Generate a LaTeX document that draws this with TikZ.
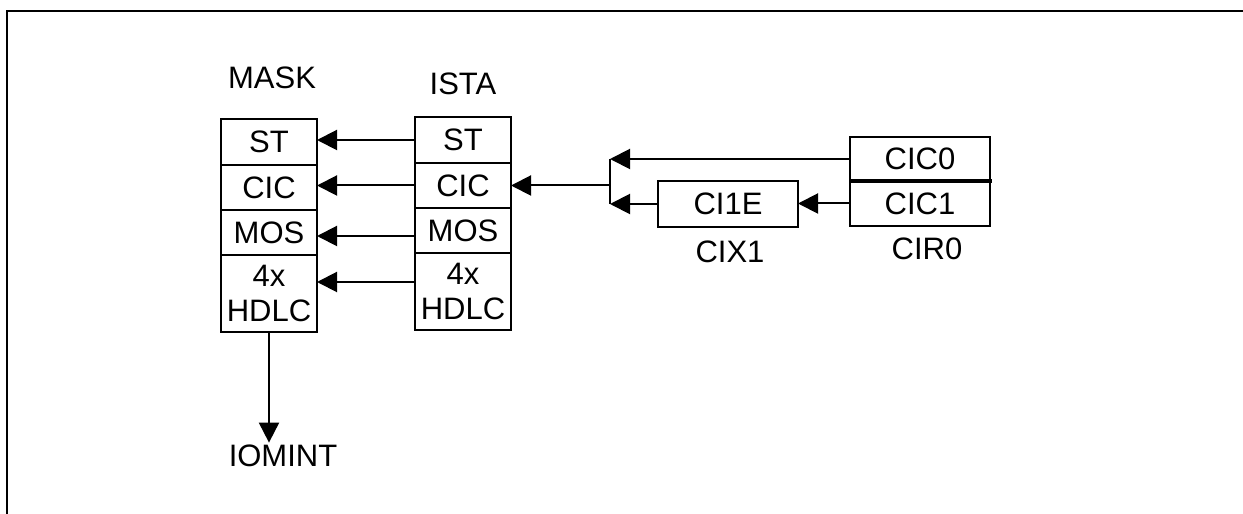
\documentclass[tikz,border=0pt]{standalone}
\usepackage{fontspec}
\setmainfont{Liberation Sans}
\usetikzlibrary{arrows.meta, positioning}
\tikzset{
  reg/.style={draw, line width=1pt, outer sep=0pt, inner sep=1pt, align=center, minimum width=48pt, minimum height=22.5pt},
  tallreg/.style={reg, minimum height=38.5pt},
  arrow/.style={-{Triangle[length=10pt, width=10pt]}, line width=1pt},
  tag/.style={inner sep=1pt},
  every node/.style={font=\fontsize{15.5}{17.5}\selectfont}
}
\begin{document}
\begin{tikzpicture}[x=0.5pt, y=0.5pt]
    \useasboundingbox (0,0) rectangle (1243,514);
    \draw[line width=0.6pt] (7,0) -- (7,503) -- (1243,503);

    % MASK register
    \node[tag] (mask-label) at (272,436) {MASK};
    \node[reg, minimum height=23pt] (mask-st) at (269,372) {ST};
    \node[reg, below=0pt of mask-st] (mask-cic) {CIC};
    \node[reg, below=0pt of mask-cic] (mask-mos) {MOS};
    \node[tallreg, below=0pt of mask-mos] (mask-hdlc) {4x\\HDLC};
    \node[tag] (iomint) at (283,58) {IOMINT};

    % ISTA register
    \node[tag] (ista-label) at (463,430) {ISTA};
    \node[reg, minimum height=23pt] (ista-st) at (463,374) {ST};
    \node[reg, below=0pt of ista-st] (ista-cic) {CIC};
    \node[reg, below=0pt of ista-cic] (ista-mos) {MOS};
    \node[tallreg, below=0pt of ista-mos] (ista-hdlc) {4x\\HDLC};

    % CIX1 and CIR0
    \node[reg, minimum width=70pt, minimum height=23pt] (cix-ci1e) at (728,310) {CI1E};
    \node[tag] (cix-label) at (730,262) {CIX1};
    \node[reg, minimum width=70pt, minimum height=22pt] (cir-cic0) at (920,355) {CIC0};
    \node[reg, minimum width=70pt, below=0pt of cir-cic0] (cir-cic1) {CIC1};
    \node[tag] (cir-label) at (927,265) {CIR0};
    \draw[line width=1.6pt] (cir-cic0.south west) -- ([xshift=1pt]cir-cic0.south east);

    \coordinate (fork-top) at (610,355);
    \coordinate (fork-bot) at (610,310);

    \draw[arrow] (ista-st.west) -- (ista-st.west -| mask-st.east);
    \draw[arrow] (ista-cic.west) -- (ista-cic.west -| mask-cic.east);
    \draw[arrow] ([yshift=-2.75pt]ista-mos.west) -- ([yshift=-2.75pt]ista-mos.west -| mask-mos.east);
    \draw[arrow] ([yshift=4.75pt]ista-hdlc.west) -- ([yshift=4.75pt]ista-hdlc.west -| mask-hdlc.east);
    \draw[arrow] (mask-hdlc.south) -- (mask-hdlc.south |- iomint.north);

    \draw[line width=1pt] (fork-top) -- (fork-bot);
    \draw[arrow] (fork-top |- ista-cic) -- (ista-cic.east);
    \draw[arrow] (cir-cic0.west) -- (cir-cic0.west -| fork-top);
    \draw[arrow] (cix-ci1e.west) -- (cix-ci1e.west -| fork-bot);
    \draw[arrow] (cir-cic1.west) -- (cir-cic1.west -| cix-ci1e.east);
\end{tikzpicture}
\end{document}
